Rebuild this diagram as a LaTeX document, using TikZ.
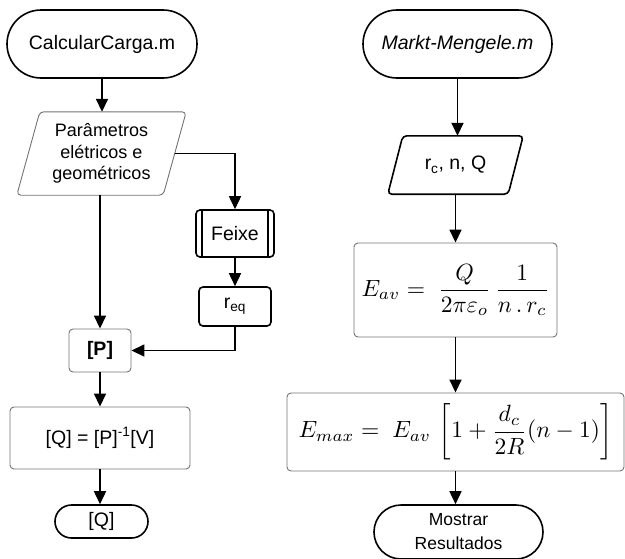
\documentclass[tikz,border=0pt]{standalone}
\usepackage{amsmath}
\usepackage{graphicx}
\usepackage{fontspec}
\setmainfont{Liberation Sans}
\usetikzlibrary{arrows.meta,shapes.misc}
\begin{document}
\begin{tikzpicture}[x=1pt,y=-1pt,
  term/.style={rounded rectangle, draw, line width=1.6pt, inner sep=0pt, align=center},
  gbox/.style={rectangle, draw=black!55, line width=0.9pt, rounded corners=4pt, inner sep=0pt, align=center},
  dbox/.style={rectangle, draw, line width=1.6pt, rounded corners=4pt, inner sep=0pt, align=center},
  plain/.style={rectangle, inner sep=0pt, align=center},
  arr/.style={-{Triangle[length=13pt,width=12pt]}, line width=1.6pt},
  big/.style={font=\fontsize{19.5}{22}\selectfont},
  mid/.style={font=\fontsize{18}{21.5}\selectfont},
  small/.style={font=\fontsize{17.5}{24}\selectfont}]
\useasboundingbox (0,0) rectangle (625,558);

% ---------- left column ----------
\node[term, big, minimum width=190pt, minimum height=68pt] (cc) at (102,44) {CalcularCarga.m};
\node[plain, mid, minimum width=146pt, minimum height=83pt] (par) at (101.5,153.5) {Parâmetros\\elétricos e\\geométricos};
\draw[draw=black!55, line width=0.9pt, rounded corners=4pt]
  ([xshift=11.5pt]par.north west) -- ([xshift=11.5pt]par.north east) --
  ([xshift=-11.5pt]par.south east) -- ([xshift=-11.5pt]par.south west) -- cycle;
\node[dbox, big, minimum width=78pt, minimum height=47pt] (fx) at (235,233.5) {Feixe};
\draw[line width=1.6pt] ([xshift=7pt]fx.north west) -- ([xshift=7pt]fx.south west)
  ([xshift=-7pt]fx.north east) -- ([xshift=-7pt]fx.south east);
\node[dbox, big, minimum width=72pt, minimum height=39pt] (req) at (235,306.5) {r\textsubscript{eq}};
\node[gbox, big, minimum width=62pt, minimum height=43pt, font=\fontsize{19.5}{22}\selectfont\bfseries] (P) at (100,350.5) {[P]};
\node[gbox, big, minimum width=180pt, minimum height=62pt] (QP) at (100,438) {[Q] = [P]\textsuperscript{-1}[V]};
\node[term, big, minimum width=93pt, minimum height=33pt] (Q) at (101.5,521.5) {[Q]};

\draw[arr] (cc.south) -- (par.north -| cc.south);
\draw[arr] (par.east) -| (fx.north);
\draw[arr] (fx.south) -- (req.north);
\draw[arr] (req.south) |- (P.east);
\draw[arr] (par.south -| P.north) -- (P.north);
\draw[arr] (P.south) -- (QP.north);
\draw[arr] (QP.south) -- (QP.south |- Q.north);

% ---------- right column ----------
\node[term, big, minimum width=189pt, minimum height=68pt, font=\fontsize{19.5}{22}\selectfont\itshape] (mm) at (457.5,44) {Markt-Mengele.m};
\node[plain, big, minimum width=120pt, minimum height=58pt] (rc) at (455.5,165) {r\textsubscript{c}, n, Q};
\draw[line width=1.6pt, rounded corners=4pt]
  ([xshift=7.5pt]rc.north west) -- ([xshift=7.5pt]rc.north east) --
  ([xshift=-7.5pt]rc.south east) -- ([xshift=-7.5pt]rc.south west) -- cycle;
\node[gbox, minimum width=203pt, minimum height=94pt] (eav) at (455.5,290)
  {\scalebox{2.35}{$\displaystyle E_{av} =\; \frac{Q}{2\pi\varepsilon_o}\,\frac{1}{n\,.\,r_c}$}};
\node[gbox, minimum width=337pt, minimum height=78pt] (emax) at (455.5,432)
  {\scalebox{2.35}{$\displaystyle E_{max} =\; E_{av}\,\left[1+\frac{d_c}{2R}(n-1)\right]$}};
\node[term, small, minimum width=169pt, minimum height=54pt] (mr) at (458.5,532) {Mostrar\\Resultados};

\draw[arr] (mm.south) -- (mm.south |- rc.north);
\draw[arr] (rc.south) -- (eav.north);
\draw[arr] (eav.south) -- (emax.north);
\draw[arr] (emax.south) -- (emax.south |- mr.north);
\end{tikzpicture}
\end{document}
